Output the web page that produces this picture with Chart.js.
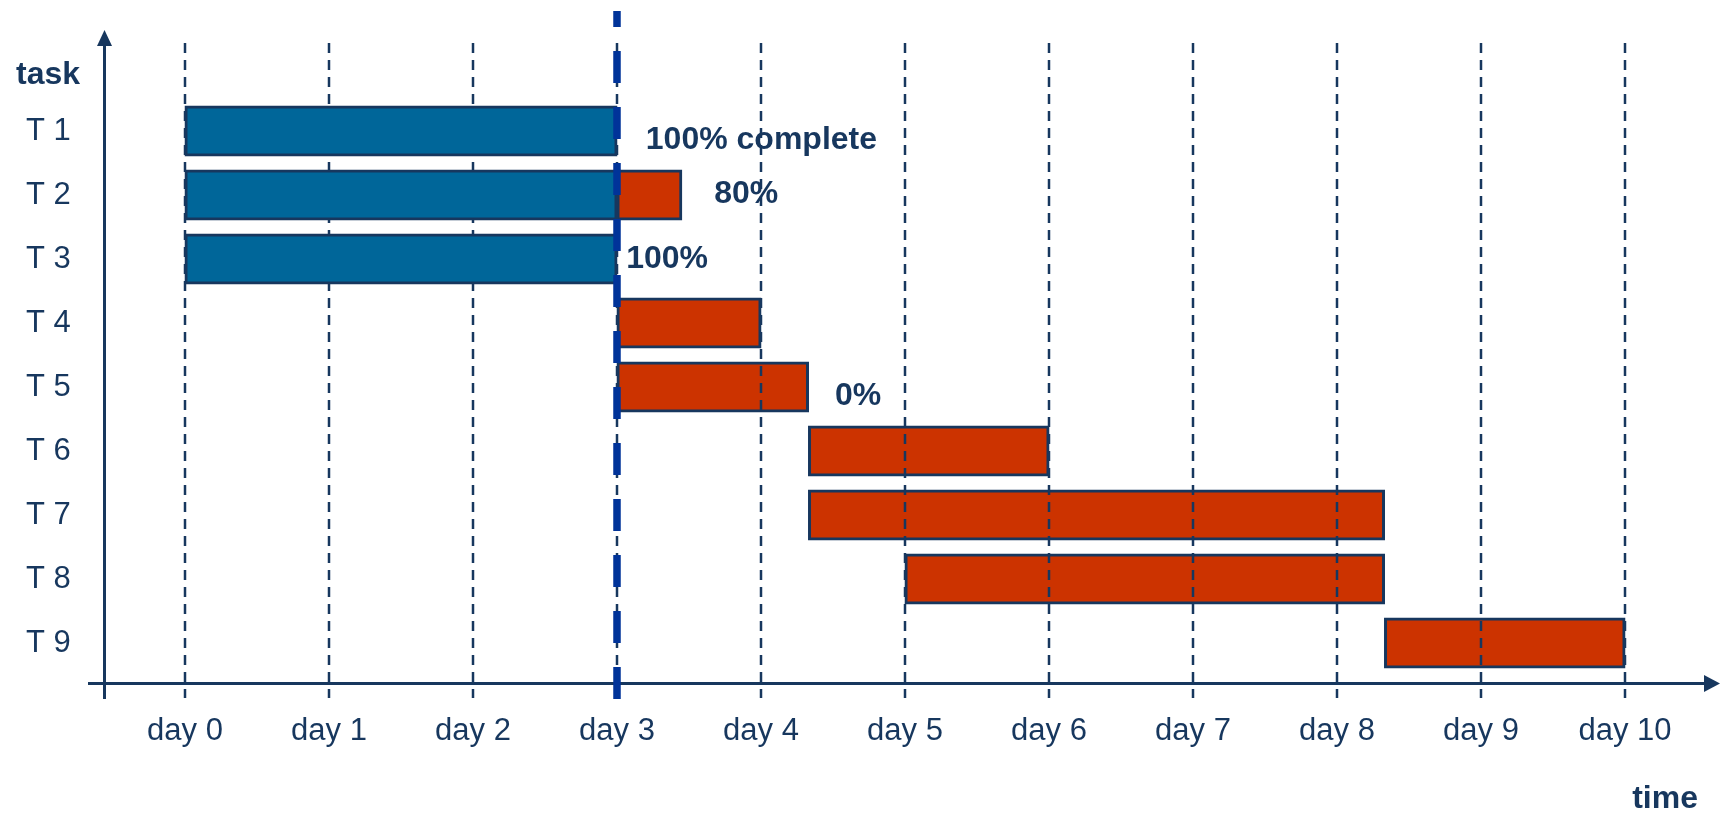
<!DOCTYPE html>
<html>
<head>
<meta charset="utf-8">
<title>Cronograma</title>
<script src="https://cdn.jsdelivr.net/npm/chart.js@4.4.1/dist/chart.umd.min.js"></script>
<style>
  html, body { margin: 0; padding: 0; background: #fff; }
  canvas { display: block; }
</style>
</head>
<body>
<canvas id="gantt" width="1720" height="815"></canvas>
<script>
// Tarefas e dias do cronograma
const tasks = ["T 1", "T 2", "T 3", "T 4", "T 5", "T 6", "T 7", "T 8", "T 9"];
const dayTicks = [0, 1, 2, 3, 4, 5, 6, 7, 8, 9, 10];

// Parte já concluída (azul)
const doneStart = [0, 0, 0, null, null, null, null, null, null];
const doneEnd   = [3, 3, 3, null, null, null, null, null, null];

// Parte que falta (laranja)
const todoStart = [null, 3, null, 3, 3, 4.33, 4.33, 5, 8.33];
const todoEnd   = [null, 3.45, null, 4, 4.33, 6, 8.33, 8.33, 10];

// Dia atual (linha tracejada azul)
const today = 3;

// Anotações de progresso
const noteText = ["100% complete", "80%", "100%", "0%"];
const noteDay  = [3.2, 3.675, 3.064, 4.514];
const noteRow  = [0.14, 0.99, 2.0, 4.15];

const ink = "#17375E";
const fontFamily = "'Liberation Sans', Arial, sans-serif";

function pares(starts, ends) {
    return starts.map((s, i) => (s === null ? null : [s, ends[i]]));
}

// Grade tracejada: passa por cima das barras laranja, mas não das azuis
function desenhaGrade(chart) {
    const { ctx, chartArea, scales: { x } } = chart;
    ctx.save();
    ctx.beginPath();
    ctx.rect(0, 0, chart.width, chart.height);
    chart.getDatasetMeta(0).data.forEach(bar => {
        const p = bar.getProps(["x", "y", "base", "height"], true);
        if (!isFinite(p.x) || !isFinite(p.base)) return;
        ctx.rect(Math.min(p.x, p.base), p.y - p.height / 2, Math.abs(p.x - p.base), p.height);
    });
    ctx.clip("evenodd");

    ctx.strokeStyle = ink;
    ctx.lineWidth = 2.5;
    ctx.setLineDash([10, 7]);
    dayTicks.forEach(d => {
        const px = x.getPixelForValue(d);
        ctx.beginPath();
        ctx.moveTo(px, chartArea.top - 56);
        ctx.lineTo(px, chartArea.bottom + 23);
        ctx.stroke();
    });
    ctx.restore();
}

// Eixos com setas, linha de hoje e textos
const ganttDecor = {
    id: "ganttDecor",
    afterDatasetsDraw(chart) {
        desenhaGrade(chart);

        const { ctx, chartArea, scales: { x, y } } = chart;
        const axisY = chartArea.bottom + 8.5;
        const axisX = chartArea.left + 0.5;
        ctx.save();
        ctx.strokeStyle = ink;
        ctx.fillStyle = ink;
        ctx.lineWidth = 3;

        // eixo do tempo
        ctx.beginPath();
        ctx.moveTo(axisX - 16.5, axisY);
        ctx.lineTo(chart.width - 14, axisY);
        ctx.stroke();
        ctx.beginPath();
        ctx.moveTo(chart.width, axisY);
        ctx.lineTo(chart.width - 16, axisY - 8.5);
        ctx.lineTo(chart.width - 16, axisY + 8.5);
        ctx.closePath();
        ctx.fill();

        // eixo das tarefas
        ctx.beginPath();
        ctx.moveTo(axisX, chartArea.bottom + 24);
        ctx.lineTo(axisX, chartArea.top - 55);
        ctx.stroke();
        ctx.beginPath();
        ctx.moveTo(axisX, chartArea.top - 69);
        ctx.lineTo(axisX - 7.5, chartArea.top - 53);
        ctx.lineTo(axisX + 7.5, chartArea.top - 53);
        ctx.closePath();
        ctx.fill();

        // textos em negrito
        ctx.font = "bold 32px " + fontFamily;
        ctx.textBaseline = "middle";
        ctx.textAlign = "left";
        noteText.forEach((t, i) => {
            ctx.fillText(t, x.getPixelForValue(noteDay[i]), y.getPixelForValue(noteRow[i]));
        });
        ctx.textBaseline = "alphabetic";
        ctx.fillText("task", 16, chartArea.top - 15);
        ctx.textAlign = "right";
        ctx.fillText("time", 1698, chart.height - 6.7);

        // linha do dia atual
        const tx = x.getPixelForValue(today);
        ctx.strokeStyle = "#003399";
        ctx.lineWidth = 7.5;
        ctx.setLineDash([32, 24]);
        ctx.lineDashOffset = 16;
        ctx.beginPath();
        ctx.moveTo(tx, chartArea.top - 88);
        ctx.lineTo(tx, chartArea.bottom + 24);
        ctx.stroke();
        ctx.restore();
    }
};

const barStyle = {
    borderColor: ink,
    borderWidth: 3,
    borderSkipped: false,
    inflateAmount: 0.5,
    grouped: false,
    barPercentage: 0.78125,
    categoryPercentage: 1
};

new Chart(document.getElementById("gantt"), {
    type: "bar",
    data: {
        labels: tasks,
        datasets: [
            Object.assign({ label: "concluído", data: pares(doneStart, doneEnd), backgroundColor: "#006699" }, barStyle),
            Object.assign({ label: "restante", data: pares(todoStart, todoEnd), backgroundColor: "#CC3300" }, barStyle)
        ]
    },
    options: {
        indexAxis: "y",
        responsive: false,
        animation: false,
        layout: { padding: { top: 99, left: 26, right: 0, bottom: 0 } },
        plugins: { legend: { display: false }, tooltip: { enabled: false } },
        scales: {
            x: {
                type: "linear",
                min: -81 / 144,
                max: -81 / 144 + 1616 / 144,
                grid: { display: false, drawTicks: false },
                border: { display: false },
                afterBuildTicks: s => { s.ticks = dayTicks.map(v => ({ value: v })); },
                afterFit: s => { s.height = 140; },
                ticks: {
                    padding: 38,
                    color: ink,
                    autoSkip: false,
                    maxRotation: 0,
                    font: { family: fontFamily, size: 31 },
                    callback: v => "day " + v
                }
            },
            y: {
                type: "category",
                grid: { display: false, drawTicks: false },
                border: { display: false },
                afterFit: s => { s.width = 78; },
                ticks: {
                    crossAlign: "far",
                    color: ink,
                    font: { family: fontFamily, size: 31 }
                }
            }
        }
    },
    plugins: [ganttDecor]
});
</script>
</body>
</html>
